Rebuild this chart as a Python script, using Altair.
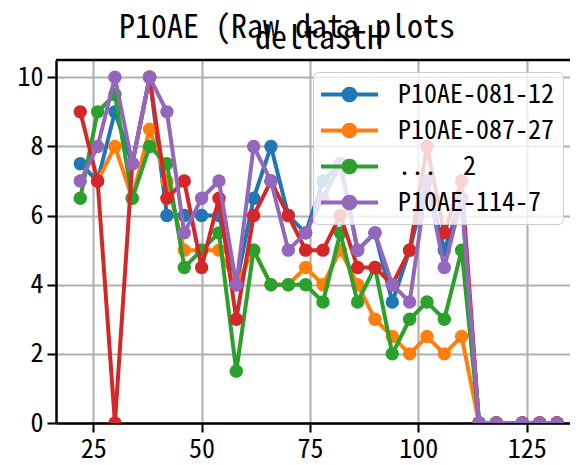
import altair as alt
import pandas as pd

FONT = "Noto Sans Mono CJK JP, Liberation Mono, monospace"

x_vals = [22, 26, 30, 34, 38, 42, 46, 50, 54, 58, 62, 66, 70, 74, 78, 82, 86, 90,
          94, 98, 102, 106, 110, 114, 118, 124, 128, 132]

series_names = ["P10AE-081-12", "P10AE-087-27", "...\u00a0\u00a02", "_hidden", "P10AE-114-7"]
legend_names = ["P10AE-081-12", "P10AE-087-27", "...\u00a0\u00a02", "P10AE-114-7"]
colors = ["#1f77b4", "#ff7f0e", "#2ca02c", "#d62728", "#9467bd"]

blue = [7.5, 7.0, 9.0, 7.5, 10, 6.0, 6.0, 6.0, 6.0, 4.0, 6.5, 8.0, 6.0, 5.5, 7.0, 7.5, 5.0, 5.5,
        3.5, 5.0, 7.0, 5.0, 6.5, 0, 0, 0, 0, 0]
orange = [None, 7.0, 8.0, 6.5, 8.5, 7.0, 5.0, 5.0, 5.0, 4.0, 5.0, 4.0, 4.0, 4.5, 4.0, 5.0, 4.0, 3.0,
          2.5, 2.0, 2.5, 2.0, 2.5, 0, 0, 0, 0, 0]
green = [6.5, 9.0, 9.5, 6.5, 8.0, 7.5, 4.5, 5.0, 5.5, 1.5, 5.0, 4.0, 4.0, 4.0, 3.5, 5.5, 3.5, 4.5,
         2.0, 3.0, 3.5, 3.0, 5.0, 0, 0, 0, 0, 0]
red = [9.0, 7.0, 0.0, 7.5, 10, 6.5, 7.0, 4.5, 6.5, 3.0, 6.0, 7.0, 6.0, 5.0, 5.0, 6.0, 4.5, 4.5,
       4.0, 5.0, 8.0, 5.5, 7.0, 0, 0, 0, 0, 0]
purple = [7.0, 8.0, 10, 7.5, 10, 9.0, 5.5, 6.5, 7.0, 4.0, 8.0, 7.0, 5.0, 5.5, 6.5, 7.5, 5.0, 5.5,
          4.0, 3.5, 7.0, 4.5, 6.5, 0, 0, 0, 0, 0]

x_ticks = [25, 50, 75, 100, 125]
y_ticks = [0, 2, 4, 6, 8, 10]
x_domain = [16.4, 135.0]
y_domain = [0, 10.5]

title_lines = ["P10AE (Raw data plots", "\u200b\u00a0\u00a0\u00a0\u00a0deltaStH"]

rows = []
for name, vals in zip(series_names, [blue, orange, green, red, purple]):
    for x, v in zip(x_vals, vals):
        if v is not None:
            rows.append({"x": x, "y": v, "series": name})
df = pd.DataFrame(rows)

x_enc = alt.X("x:Q", scale=alt.Scale(domain=x_domain, nice=False, zero=False),
              axis=alt.Axis(title=None, values=x_ticks, labelOverlap=False))
y_enc = alt.Y("y:Q", scale=alt.Scale(domain=y_domain, nice=False, zero=False),
              axis=alt.Axis(title=None, values=y_ticks, labelOverlap=False))

sym_path = ("M-2,-0.14H-0.5V0.14H-2Z M0.5,-0.14H2V0.14H0.5Z "
            "M-0.55,0A0.55,0.55 0 1,1 0.55,0A0.55,0.55 0 1,1 -0.55,0Z")

legend = alt.Legend(
    title=None, values=legend_names, orient="none", legendX=257, legendY=12,
    symbolType=sym_path, symbolSize=812, symbolStrokeWidth=0, symbolOffset=14,
    labelOffset=34, labelFont=FONT, labelFontSize=26, labelColor="black", labelLimit=0,
    fillColor="rgba(255,255,255,0.8)", strokeColor="#cccccc", cornerRadius=5,
    padding=8, rowPadding=8,
)

col_scale = alt.Scale(domain=series_names, range=colors)

layers = []
for name, c in zip(series_names, colors):
    base = alt.Chart(df).transform_filter(alt.datum.series == name)
    line = base.mark_line(strokeWidth=4, clip=True, color=c).encode(x=x_enc, y=y_enc)
    pts = base.mark_circle(size=180, opacity=1, clip=True).encode(
        x=x_enc, y=y_enc,
        color=alt.Color("series:N", scale=col_scale, legend=legend),
    )
    layers += [line, pts]

top = alt.Chart(pd.DataFrame({"top": [y_domain[1]]})).mark_rule(
    color="black", strokeWidth=2.5).encode(y=alt.Y("top:Q"))
layers.append(top)

chart = alt.layer(*layers).properties(
    width=514, height=363,
    autosize=alt.AutoSizeParams(type="none"),
    padding={"left": 48, "top": 52, "right": 0, "bottom": 40},
    title=alt.Title(title_lines,
                    font=FONT, fontSize=32, fontWeight="normal", color="black",
                    anchor="middle", lineHeight=11, dx=-26, offset=3),
    background="white",
).configure_view(stroke=None).configure_axis(
    grid=True, gridColor="#b0b0b0", gridWidth=2.1,
    domainColor="black", domainWidth=2.5,
    tickColor="black", tickWidth=2.1, tickSize=9,
    labelFont=FONT, labelFontSize=26, labelColor="black", labelPadding=4,
)

chart.save("out.html", embed_options={"renderer": "svg", "actions": False})
